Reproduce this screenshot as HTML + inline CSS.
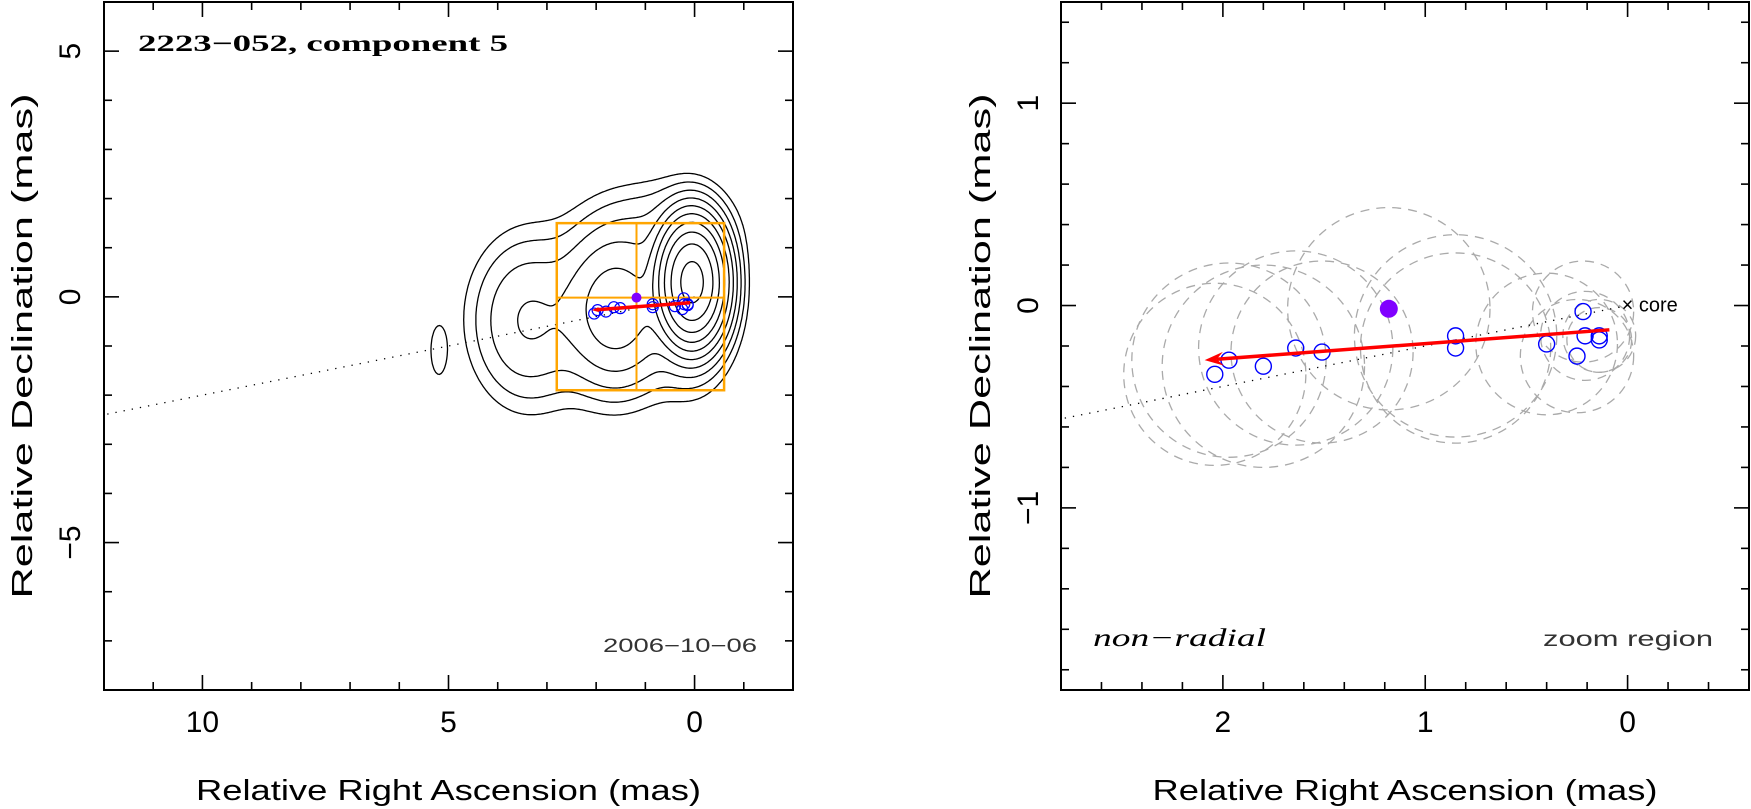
<!DOCTYPE html>
<html><head><meta charset="utf-8">
<style>
html,body{margin:0;padding:0;background:#fff;}
svg{display:block;}
</style></head>
<body>
<svg id="fig" xmlns="http://www.w3.org/2000/svg" width="1751" height="809" viewBox="0 0 1751 809" font-family="Liberation Sans, sans-serif">
<defs>
<clipPath id="clipL"><rect x="104" y="2" width="689" height="688"/></clipPath>
<clipPath id="clipR"><rect x="1061" y="2" width="688" height="688"/></clipPath>
</defs>
<g id="left"></g>
<g id="right"></g>
</svg>
<script>
// ---- data ----
const compRA  = [2.04, 1.97, 1.80, 1.64, 1.51, 0.85, 0.85, 0.40, 0.25, 0.22, 0.21, 0.14, 0.14];
const compDec = [-0.34, -0.27, -0.30, -0.21, -0.23, -0.15, -0.21, -0.19, -0.25, -0.03, -0.15, -0.15, -0.17];
const compSize = [0.45, 0.48, 0.50, 0.48, 0.45, 0.50, 0.47, 0.35, 0.28, 0.25, 0.22, 0.18, 0.16];
const purpleRA = [1.18];
const purpleDec = [-0.016];
const purpleSize = [0.5];
const arrowFrom = [0.09, -0.12];
const arrowTo = [2.09, -0.27];
const ridgeSlope = [-0.2];
const gaussRA  = [0.05, 0.10, 1.6, 0.7, 3.4, 1.8, 5.2];
const gaussDec = [0.3, 0.1, -0.25, 1.4, -0.5, -0.3, -1.1];
const gaussAmp = [200, 4, 7, 0.8, 2.2, 0.7, 0.55];
const gaussSX  = [0.3, 0.45, 0.55, 0.9, 0.6, 1.4, 0.13];
const gaussSY  = [0.55, 0.9, 0.8, 0.6, 0.9, 1.1, 0.4];
const contourLevels = [0.3, 0.6, 1.2, 2.4, 4.8, 9.6, 19.2, 38.4, 76.8, 153.6];
const leftXTicks = [10, 5, 0];
const leftYTicks = [5, 0, -5];
const rightXTicks = [2, 1, 0];
const rightYTicks = [1, 0, -1];

const NS = "http://www.w3.org/2000/svg";
function mk(parent, tag, attrs, text){
  const e = document.createElementNS(NS, tag);
  for (const k in attrs) e.setAttribute(k, attrs[k]);
  if (text !== undefined) e.textContent = text;
  parent.appendChild(e);
  return e;
}
function fmt(v){ return v < 0 ? "\u2212" + Math.abs(v) : String(v); }

function panel(g, P){
  const sx = v => P.x0 + (P.xmax - v) / (P.xmax - P.xmin) * P.w;
  const sy = v => P.y0 + (P.ymax - v) / (P.ymax - P.ymin) * P.h;
  P.sx = sx; P.sy = sy;
  const tg = mk(g, "g", {stroke:"#000","stroke-width":1.6});
  
  
  for (let i = Math.ceil(P.xmin / P.minor - 1e-6); i * P.minor <= P.xmax + 1e-6; i++){
    const v = i * P.minor, x = sx(v);
    const major = Math.abs(v / P.major - Math.round(v / P.major)) < 1e-6;
    const L = major ? 15 : 8;
    mk(tg, "line", {x1:x, y1:P.y0+P.h, x2:x, y2:P.y0+P.h-L});
    mk(tg, "line", {x1:x, y1:P.y0, x2:x, y2:P.y0+L});
  }
  for (let i = Math.ceil(P.ymin / P.minor - 1e-6); i * P.minor <= P.ymax + 1e-6; i++){
    const v = i * P.minor, y = sy(v);
    const major = Math.abs(v / P.major - Math.round(v / P.major)) < 1e-6;
    const L = major ? 15 : 8;
    mk(tg, "line", {x1:P.x0, y1:y, x2:P.x0+L, y2:y});
    mk(tg, "line", {x1:P.x0+P.w, y1:y, x2:P.x0+P.w-L, y2:y});
  }
  P.xt.forEach(v => {
    const t = mk(g, "text", {x:sx(v), y:P.y0+P.h+42, "font-size":30, "text-anchor":"middle"}, fmt(v));
    
    
  });
  P.yt.forEach(v => {
    const t = mk(g, "text", {x:0, y:0, "font-size":30, "text-anchor":"middle", transform:`translate(${P.ylx},${sy(v)}) rotate(-90)`}, fmt(v));
    
    
  });
  const xt = mk(g, "text", {x:P.x0+P.w/2, y:800, "font-size":29, "text-anchor":"middle", textLength:505, lengthAdjust:"spacingAndGlyphs"}, "Relative Right Ascension (mas)");
  
  
  const yt = mk(g, "text", {x:0, y:0, "font-size":29, "text-anchor":"middle", textLength:505, lengthAdjust:"spacingAndGlyphs", transform:`translate(${P.ytx},${P.y0+P.h/2}) rotate(-90)`}, "Relative Declination (mas)");
  
  
  const fr = mk(g, "rect", {x:P.x0, y:P.y0, width:P.w, height:P.h, fill:"none", stroke:"#000", "stroke-width":2});
  
  
}

function field(x, y){
  let s = 0;
  for (let i = 0; i < gaussAmp.length; i++){
    const dx = (x - gaussRA[i]) / gaussSX[i], dy = (y - gaussDec[i]) / gaussSY[i];
    s += gaussAmp[i] * Math.exp(-0.5 * (dx*dx + dy*dy));
  }
  return s;
}

function contours(g, P){
  const x0 = -2.2, x1 = 6.5, y0 = -3.6, y1 = 3.6, st = 0.035;
  const nx = Math.round((x1 - x0) / st), ny = Math.round((y1 - y0) / st);
  const F = [];
  for (let j = 0; j <= ny; j++){ const row = []; for (let i = 0; i <= nx; i++) row.push(field(x0 + i*st, y0 + j*st)); F.push(row); }
  contourLevels.forEach(lv => {
    let d = "";
    for (let j = 0; j < ny; j++) for (let i = 0; i < nx; i++){
      const c = [[x0+i*st, y0+j*st, F[j][i]], [x0+(i+1)*st, y0+j*st, F[j][i+1]], [x0+(i+1)*st, y0+(j+1)*st, F[j+1][i+1]], [x0+i*st, y0+(j+1)*st, F[j+1][i]]];
      const pts = [];
      for (let e = 0; e < 4; e++){
        const a = c[e], b = c[(e+1)%4];
        if ((a[2] - lv) * (b[2] - lv) < 0){
          const t = (lv - a[2]) / (b[2] - a[2]);
          pts.push([a[0] + t*(b[0]-a[0]), a[1] + t*(b[1]-a[1])]);
        }
      }
      for (let k = 0; k + 1 < pts.length; k += 2){
        d += `M${P.sx(pts[k][0]).toFixed(1)},${P.sy(pts[k][1]).toFixed(1)}L${P.sx(pts[k+1][0]).toFixed(1)},${P.sy(pts[k+1][1]).toFixed(1)}`;
      }
    }
    const p = mk(g, "path", {d:d, fill:"none", stroke:"#000", "stroke-width":1.3, "stroke-linecap":"round"});
    
    
  });
}

function arrow(g, P, w, head){
  const xa = P.sx(arrowFrom[0]), ya = P.sy(arrowFrom[1]), xb = P.sx(arrowTo[0]), yb = P.sy(arrowTo[1]);
  const ang = Math.atan2(yb - ya, xb - xa);
  const ln = mk(g, "line", {x1:xa, y1:ya, x2:xb - Math.cos(ang)*head*0.6, y2:yb - Math.sin(ang)*head*0.6, stroke:"#ff0000", "stroke-width":w});
  
  
  const hx1 = xb - Math.cos(ang - 0.35)*head, hy1 = yb - Math.sin(ang - 0.35)*head;
  const hx2 = xb - Math.cos(ang + 0.35)*head, hy2 = yb - Math.sin(ang + 0.35)*head;
  const hx3 = xb - Math.cos(ang)*head*0.6, hy3 = yb - Math.sin(ang)*head*0.6;
  const hd = mk(g, "path", {d:`M${xb},${yb}L${hx1},${hy1}L${hx3},${hy3}L${hx2},${hy2}Z`, fill:"#ff0000"});
  
  
}

// ---- left panel ----
const gl = document.getElementById("left");
const PL = {x0:104, y0:2, w:689, h:688, xmin:-2, xmax:12, ymin:-8, ymax:6, minor:1, major:5, xt:leftXTicks, yt:leftYTicks, ylx:80, ytx:32};
panel(gl, PL);
const cl = mk(gl, "g", {"clip-path":"url(#clipL)"});


const dl = mk(cl, "line", {x1:PL.sx(0), y1:PL.sy(0), x2:PL.sx(12), y2:PL.sy(12*ridgeSlope[0]), stroke:"#000", "stroke-width":1.3, "stroke-dasharray":"1.3 7"});


contours(cl, PL);
const zb = mk(cl, "rect", {x:PL.sx(2.8), y:PL.sy(1.5), width:PL.sx(-0.6)-PL.sx(2.8), height:PL.sy(-1.9)-PL.sy(1.5), fill:"none", stroke:"#ffa500", "stroke-width":2.5});


const zv = mk(cl, "line", {x1:PL.sx(purpleRA[0]), y1:PL.sy(1.5), x2:PL.sx(purpleRA[0]), y2:PL.sy(-1.9), stroke:"#ffa500", "stroke-width":2});


const zh = mk(cl, "line", {x1:PL.sx(2.8), y1:PL.sy(purpleDec[0]), x2:PL.sx(-0.6), y2:PL.sy(purpleDec[0]), stroke:"#ffa500", "stroke-width":2});


compRA.forEach((ra, i) => {
  const c = mk(cl, "circle", {cx:PL.sx(ra), cy:PL.sy(compDec[i]), r:5.5, fill:"none", stroke:"#0000ff", "stroke-width":1.2});
  
  
});
const pl = mk(cl, "circle", {cx:PL.sx(purpleRA[0]), cy:PL.sy(purpleDec[0]), r:5, fill:"#8000ff"});


arrow(cl, PL, 3.5, 8);
const t1 = mk(gl, "text", {x:138, y:51, "font-size":23, "font-weight":"bold", "font-family":"Liberation Serif, serif", textLength:370, lengthAdjust:"spacingAndGlyphs"}, "2223\u2212052, component 5");


const t2 = mk(gl, "text", {x:603, y:652, "font-size":19, fill:"#333", textLength:154, lengthAdjust:"spacingAndGlyphs"}, "2006\u221210\u221206");



// ---- right panel ----
const gr = document.getElementById("right");
const PR = {x0:1061, y0:2, w:688, h:688, xmin:-0.6, xmax:2.8, ymin:-1.9, ymax:1.5, minor:0.2, major:1, xt:rightXTicks, yt:rightYTicks, ylx:1038, ytx:990};
panel(gr, PR);
const cr = mk(gr, "g", {"clip-path":"url(#clipR)"});


const scR = PR.w / (PR.xmax - PR.xmin);
compRA.forEach((ra, i) => {
  const c = mk(cr, "circle", {cx:PR.sx(ra), cy:PR.sy(compDec[i]), r:compSize[i]*scR, fill:"none", stroke:"#aaaaaa", "stroke-width":1.3, "stroke-dasharray":"9 7"});
  
  
});
const pc = mk(cr, "circle", {cx:PR.sx(purpleRA[0]), cy:PR.sy(purpleDec[0]), r:purpleSize[0]*scR, fill:"none", stroke:"#aaaaaa", "stroke-width":1.3, "stroke-dasharray":"9 7"});


const dr = mk(cr, "line", {x1:PR.sx(0), y1:PR.sy(0), x2:PR.sx(3), y2:PR.sy(3*ridgeSlope[0]), stroke:"#000", "stroke-width":1.3, "stroke-dasharray":"1.3 7"});


compRA.forEach((ra, i) => {
  const c = mk(cr, "circle", {cx:PR.sx(ra), cy:PR.sy(compDec[i]), r:8, fill:"none", stroke:"#0000ff", "stroke-width":1.4});
  
  
});
const pr = mk(cr, "circle", {cx:PR.sx(purpleRA[0]), cy:PR.sy(purpleDec[0]), r:9, fill:"#8000ff"});


arrow(cr, PR, 3.5, 20);
const core = mk(gr, "text", {x:PR.sx(0)-6, y:PR.sy(0)+6, "font-size":20}, "\u00d7 core");


const nr = mk(gr, "text", {x:1093, y:646, "font-size":25, "font-style":"italic", "font-family":"Liberation Serif, serif", textLength:173, lengthAdjust:"spacingAndGlyphs"}, "non\u2212radial");


const zr = mk(gr, "text", {x:1543, y:646, "font-size":21, fill:"#333", textLength:170, lengthAdjust:"spacingAndGlyphs"}, "zoom region");


</script>
</body></html>
